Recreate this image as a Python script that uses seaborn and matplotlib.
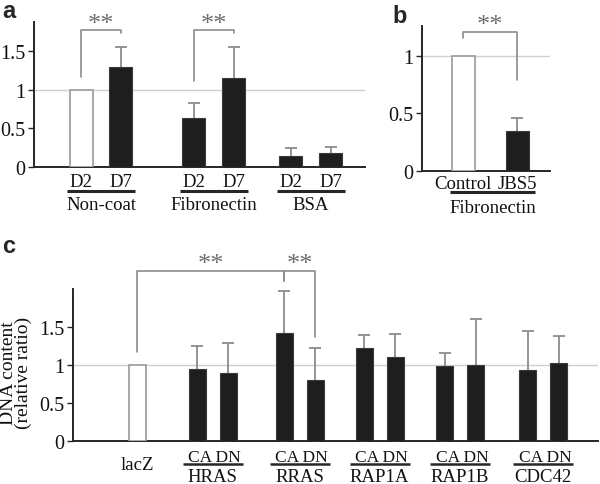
import numpy as np
import pandas as pd
import matplotlib
matplotlib.use("Agg")
import matplotlib.pyplot as plt
import seaborn as sns

# ---------------- data ----------------
a_groups = ["Non-coat", "Fibronectin", "BSA"]
a_days = ["D2", "D7"]
a_values = [1.00, 1.30, 0.63, 1.15, 0.14, 0.18]
a_errors = [0.00, 0.26, 0.20, 0.41, 0.11, 0.08]
a_kinds = ["control", "treated", "treated", "treated", "treated", "treated"]

b_group = "Fibronectin"
b_labels = ["Control", "JBS5"]
b_values = [1.00, 0.35]
b_errors = [0.00, 0.11]
b_kinds = ["control", "treated"]

c_control = "lacZ"
c_groups = ["HRAS", "RRAS", "RAP1A", "RAP1B", "CDC42"]
c_types = ["CA", "DN"]
c_values = [1.00, 0.95, 0.89, 1.42, 0.80, 1.23, 1.11, 0.99, 1.00, 0.94, 1.02]
c_errors = [0.00, 0.30, 0.40, 0.55, 0.43, 0.17, 0.30, 0.17, 0.60, 0.51, 0.36]
c_kinds = ["control"] + ["treated"] * 10

yticks_a = [0, 0.5, 1, 1.5]
yticks_b = [0, 0.5, 1]
yticks_c = [0, 0.5, 1, 1.5]
ytick_labels = {0: "0", 0.5: "0.5", 1: "1", 1.5: "1.5"}

# ---------------- style ----------------
sns.set_style("white")
plt.rcParams['font.family'] = ['Liberation Serif', 'DejaVu Serif']

W, H = 600, 485
fig = plt.figure(figsize=(6, 4.85), dpi=100)

def axes_px(l, r, b, t):
    return fig.add_axes([l / W, 1 - b / H, (r - l) / W, (b - t) / H])

axA = axes_px(34, 365, 168, 23)
axB = axes_px(422, 550, 172, 27)
axC = axes_px(73, 598, 442, 290)

FS = 13.5
TFS = 14.5
DARK = "#262626"
GREY = "#8c8c8c"

def draw_panel(ax, xs, vals, errs, kinds, width, xlim, ylim, yticks):
    xs = np.asarray(xs, float)
    vals = np.asarray(vals, float)
    errs = np.asarray(errs, float)
    df = pd.DataFrame({"x": xs, "v": vals, "kind": kinds})
    sns.barplot(data=df, x="x", y="v", hue="kind",
                palette={"control": "white", "treated": "#1e1e1e"},
                native_scale=True, dodge=False, width=width,
                errorbar=None, legend=False, ax=ax)
    for p in ax.patches:
        p.set_zorder(3)
        fc = p.get_facecolor()
        if fc[0] > 0.9:
            p.set_edgecolor("#9a9a9a"); p.set_linewidth(1.2)
        else:
            p.set_edgecolor("#3a3a3a"); p.set_linewidth(0.8)
    m = errs > 0
    eb = ax.errorbar(xs[m], vals[m], yerr=[np.zeros(m.sum()), errs[m]], fmt="none",
                     ecolor=GREY, elinewidth=1.3, capsize=4.5, capthick=1.3, zorder=2)
    caps = eb[1]
    if len(caps) == 2:
        caps[0].set_visible(False)
    ax.axhline(1, color="#d0d0d0", lw=1.0, zorder=1)
    ax.set_xlim(*xlim)
    ax.set_ylim(*ylim)
    ax.set_yticks(yticks)
    ax.set_yticklabels([ytick_labels[t] for t in yticks], fontsize=TFS)
    ax.set_xticks([])
    ax.set_xlabel("")
    ax.set_ylabel("")
    for s in ["top", "right"]:
        ax.spines[s].set_visible(False)
    for s in ["left", "bottom"]:
        ax.spines[s].set_color(DARK)
        ax.spines[s].set_linewidth(1.4)
    ax.tick_params(axis="y", left=True, length=4, width=1, color=DARK, pad=2,
                   direction="out", labelcolor="#111111")

def hpx(ax):
    return ax.get_position().height * H

def below(ax, x, px, s, fs=FS):
    ax.text(x, -px / hpx(ax), s, transform=ax.get_xaxis_transform(),
            ha="center", va="baseline", fontsize=fs, color="#111111", clip_on=False)

def underline(ax, x1, x2, px, lw=2.2):
    y = -px / hpx(ax)
    ax.plot([x1, x2], [y, y], transform=ax.get_xaxis_transform(), color=DARK,
            lw=lw, clip_on=False, solid_capstyle="butt")

def bracket(ax, xs, ys, txt_x=None, txt_y=None):
    ax.plot(xs, ys, color=GREY, lw=1.2, clip_on=False)
    if txt_x is not None:
        ax.text(txt_x, txt_y, "**", ha="center", va="center", fontsize=19,
                color="#6e6e6e", clip_on=False)

# ---------------- panel a ----------------
a_centers = [101, 214, 311]
a_off = 20
a_x = [c + d for c in a_centers for d in (-a_off, a_off)]
draw_panel(axA, a_x, a_values, a_errors, a_kinds, 23 / 40, (34, 365), (0, 1.88), yticks_a)
for i, g in enumerate(a_groups):
    for j, d in enumerate(a_days):
        below(axA, a_x[2 * i + j], 19, d)
    underline(axA, a_centers[i] - 34, a_centers[i] + 34, 24)
    below(axA, a_centers[i], 42, g)
for i in range(2):
    x1, x2 = a_x[2 * i], a_x[2 * i + 1]
    v1 = a_values[2 * i] + a_errors[2 * i]
    bracket(axA, [x1, x1, x2, x2], [max(v1, 0.95) + 0.17, 1.78, 1.78, 1.74],
            (x1 + x2) / 2, 1.86)

# ---------------- panel b ----------------
b_x = [463, 517]
draw_panel(axB, b_x, b_values, b_errors, b_kinds, 23 / 54, (422, 550), (0, 1.26), yticks_b)
for x, lab in zip(b_x, b_labels):
    below(axB, x, 17, lab)
underline(axB, 450, 535, 21)
below(axB, 492.5, 41, b_group)
bracket(axB, [463, 463, 517, 517], [1.16, 1.21, 1.21, 0.79], 490, 1.265)

# ---------------- panel c ----------------
c_lac = 137
c_centers = [212.5, 299.5, 379.5, 460, 543]
c_off = 15.5
c_x = [c_lac] + [c + d for c in c_centers for d in (-c_off, c_off)]
draw_panel(axC, c_x, c_values, c_errors, c_kinds, 17 / 31, (73, 598), (0, 2.0), yticks_c)
below(axC, c_lac, 28, c_control)
for i, g in enumerate(c_groups):
    below(axC, c_centers[i] + 2, 20, " ".join(c_types), fs=12.5)
    underline(axC, c_centers[i] - 30, c_centers[i] + 30, 23, lw=1.8)
    below(axC, c_centers[i], 40, g)
rr_ca, rr_dn = c_x[3], c_x[4]
bracket(axC, [c_lac, c_lac, rr_ca, rr_ca], [1.17, 2.24, 2.24, 2.11], (c_lac + rr_ca) / 2, 2.33)
bracket(axC, [rr_ca, rr_ca, rr_dn, rr_dn], [2.11, 2.24, 2.24, 1.37], (rr_ca + rr_dn) / 2, 2.33)
axC.set_ylabel("DNA content\n(relative ratio)", fontsize=14, linespacing=0.85,
               color="#111111")
axC.yaxis.set_label_coords(-0.078, 0.454)

# ---------------- panel letters ----------------
for letter, x, y in [("a", 2, 18), ("b", 392, 23), ("c", 2, 253)]:
    fig.text(x / W, 1 - y / H, letter, fontsize=17, fontweight="bold",
             family=["Liberation Sans", "DejaVu Sans"], va="baseline", ha="left")

fig.savefig("out.png", dpi=100)
